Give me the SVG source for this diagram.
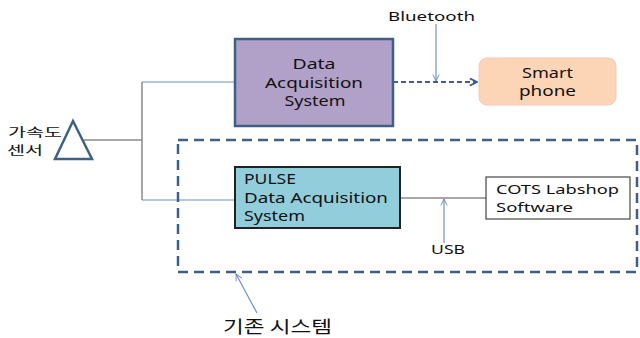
<svg xmlns="http://www.w3.org/2000/svg" width="640" height="338" viewBox="0 0 640 338">
<defs>
<style>
text{font-family:"Noto Sans","DejaVu Sans","Noto Sans CJK KR",sans-serif;fill:#111}
.ko{font-family:"Noto Sans CJK KR",sans-serif}
.c{text-anchor:middle}
.wire{stroke:#8a8a8a;stroke-width:1.5;fill:none}
.blue{stroke:#6d8fc4;stroke-width:1.2;fill:none}
</style>
<marker id="open" viewBox="0 0 10 10" refX="9" refY="5" markerWidth="8" markerHeight="8" orient="auto" markerUnits="userSpaceOnUse">
<path d="M1,1 L9,5 L1,9" fill="none" stroke="#6d8fc4" stroke-width="1.2"/>
</marker>
<marker id="dash" viewBox="0 0 10 10" refX="9" refY="5" markerWidth="9" markerHeight="9" orient="auto" markerUnits="userSpaceOnUse">
<path d="M1,1 L9,5 L1,9" fill="none" stroke="#3d5f8a" stroke-width="2"/>
</marker>
</defs>
<g id="connectors">
<path class="wire" d="M84,140 H142 M142,82 V200"/>
<path class="blue" d="M142,82 H235 M142,200 H235"/>
<path class="wire" d="M400,198 H487"/>
<path d="M393,82 H477" stroke="#3d5f8a" stroke-width="2" stroke-dasharray="5,3" fill="none" marker-end="url(#dash)"/>
<path class="blue" d="M436,24 V81" marker-end="url(#open)"/>
<path class="blue" d="M444,243 V199" marker-end="url(#open)"/>
<path class="blue" d="M257,313 L236,274" marker-end="url(#open)"/>
</g>
<g id="group-existing">
<rect x="178" y="140" width="459" height="132" fill="none" stroke="#3d5f8a" stroke-width="2.5" stroke-dasharray="10,6"/>
<text class="ko" x="223" y="333" font-size="17" textLength="109" lengthAdjust="spacingAndGlyphs">기존 시스템</text>
</g>
<g id="sensor">
<polygon points="73,121 92,159 55,159" fill="#fff" stroke="#3d5f8a" stroke-width="2.5"/>
<text class="ko" x="8" y="137" font-size="12.3" textLength="54" lengthAdjust="spacingAndGlyphs">가속도</text>
<text class="ko" x="7" y="155" font-size="12.3" textLength="36" lengthAdjust="spacingAndGlyphs">센서</text>
</g>
<g id="daq">
<rect x="235" y="39" width="158" height="87" fill="#b1a0c7" stroke="#3d5f8a" stroke-width="2.5"/>
<text class="c" x="314" y="69" font-size="14" textLength="43" lengthAdjust="spacingAndGlyphs">Data</text>
<text class="c" x="314" y="88" font-size="14" textLength="98" lengthAdjust="spacingAndGlyphs">Acquisition</text>
<text class="c" x="315" y="106" font-size="14" textLength="61" lengthAdjust="spacingAndGlyphs">System</text>
</g>
<g id="bluetooth">
<text class="c" x="431.5" y="21" font-size="13" textLength="87" lengthAdjust="spacingAndGlyphs">Bluetooth</text>
</g>
<g id="smartphone">
<rect x="479" y="58" width="137" height="47" rx="8" fill="#fbd5b5" stroke="#f6c6c0" stroke-width="1"/>
<text class="c" x="547.5" y="78" font-size="14" textLength="51" lengthAdjust="spacingAndGlyphs">Smart</text>
<text class="c" x="547.5" y="96" font-size="14" textLength="57" lengthAdjust="spacingAndGlyphs">phone</text>
</g>
<g id="pulse">
<rect x="235" y="167" width="165" height="61" fill="#92cddc" stroke="#222" stroke-width="2"/>
<text x="244" y="184" font-size="14" textLength="52" lengthAdjust="spacingAndGlyphs">PULSE</text>
<text x="244" y="203" font-size="14" textLength="144" lengthAdjust="spacingAndGlyphs">Data Acquisition</text>
<text x="244" y="221" font-size="14" textLength="61" lengthAdjust="spacingAndGlyphs">System</text>
</g>
<g id="cots">
<rect x="486" y="177" width="144" height="42" fill="#fff" stroke="#222" stroke-width="1"/>
<text x="496" y="194" font-size="13" textLength="123" lengthAdjust="spacingAndGlyphs">COTS Labshop</text>
<text x="496" y="212" font-size="13" textLength="77" lengthAdjust="spacingAndGlyphs">Software</text>
</g>
<g id="usb">
<text class="c" x="448" y="254" font-size="13" textLength="34" lengthAdjust="spacingAndGlyphs">USB</text>
</g>
</svg>
